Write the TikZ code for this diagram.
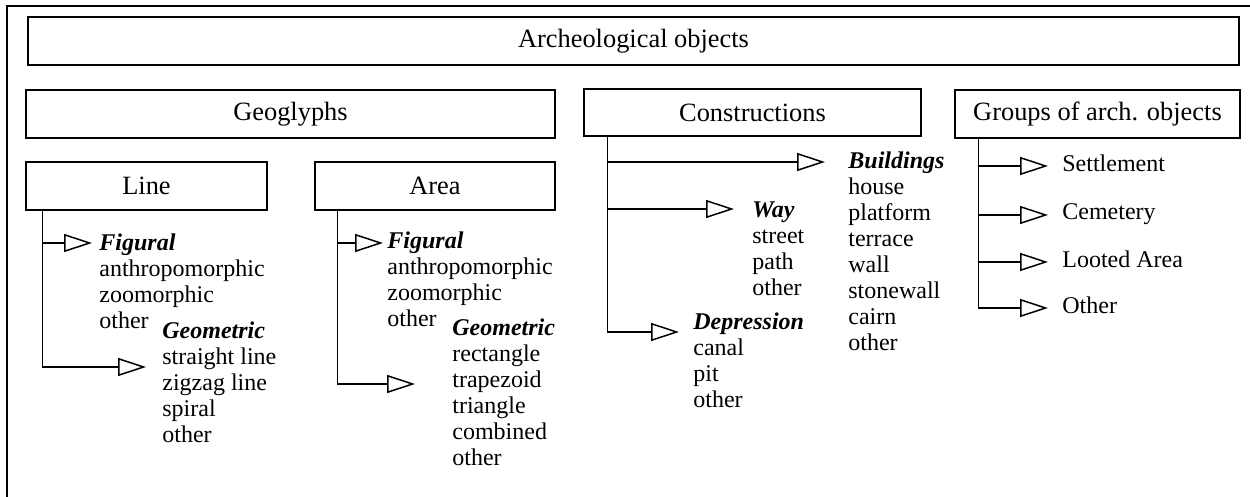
\documentclass[tikz,border=0pt]{standalone}
\usepackage{fontspec}
\setmainfont{Liberation Serif}
\usetikzlibrary{arrows.meta}

% heading in bold italic, then the kinds below it
\newcommand{\kinds}[2]{\begin{tabular}[t]{@{}l@{}}\textbf{\textit{#1}}\\#2\end{tabular}}

\begin{document}
\begin{tikzpicture}[
            x = 0.5pt,
            y = -0.5pt,
            box/.style = {
                draw,
                rectangle,
                line width = 0.75pt,
                minimum height = 24pt,
                inner sep = 0pt,
                font = \fontsize{13.2}{15}\selectfont
            },
            txt/.style = {
                anchor = base west,
                inner sep = 0pt,
                font = \fontsize{12}{13}\selectfont
            },
            link/.style = {
                line width = 0.75pt,
                -{Triangle[open, length=14pt, width=9pt]}
            }
            ]
            \useasboundingbox (0,0) rectangle (1250,497);
            \draw[line width = 1pt] (7,497) -- (7,6) -- (1250,6);

            % boxes
            \node[box, minimum width=605.5pt] (arch) at (633.5,41) {Archeological objects};
            \node[box, minimum width=264.5pt] (geo) at (290.5,114) {Geoglyphs};
            \node[box, minimum width=120.5pt] (line) at (146.5,186) {Line};
            \node[box, minimum width=120pt] (area) at (435,186) {Area};
            \node[box, minimum width=168.5pt, minimum height=23.5pt] (cons) at (752.5,112.5) {Constructions};
            \node[box, minimum width=142.5pt] (grp) at (1097.5,114) {Groups of arch. objects};

            % lists
            \node[txt] (lfig) at (99,251) {\kinds{Figural}{anthropomorphic\\zoomorphic\\other}};
            \node[txt] (lgeo) at (162,339) {\kinds{Geometric}{straight line\\zigzag line\\spiral\\other}};
            \node[txt] (afig) at (387,249) {\kinds{Figural}{anthropomorphic\\zoomorphic\\other}};
            \node[txt] (ageo) at (452,336) {\kinds{Geometric}{rectangle\\trapezoid\\triangle\\combined\\other}};
            \node[txt] (bld) at (848,169) {\kinds{Buildings}{house\\platform\\terrace\\wall\\stonewall\\cairn\\other}};
            \node[txt] (way) at (752,218) {\kinds{Way}{street\\path\\other}};
            \node[txt] (dep) at (693,330) {\kinds{Depression}{canal\\pit\\other}};
            \node[txt] (settle) at (1062,172) {Settlement};
            \node[txt] (cem) at (1062,220) {Cemetery};
            \node[txt] (loot) at (1062,268) {Looted Area};
            \node[txt] (oth) at (1062,314) {Other};

            % arrow tips
            \coordinate (lfigT) at (92,243);
            \coordinate (lgeoT) at (146,367);
            \coordinate (afigT) at (383,243);
            \coordinate (ageoT) at (415,384);
            \coordinate (bldT) at (825,162);
            \coordinate (wayT) at (734,209);
            \coordinate (depT) at (679,332);
            \coordinate (settleT) at (1048,166);
            \coordinate (cemT) at (1048,215);
            \coordinate (lootT) at (1048,262);
            \coordinate (othT) at (1048,308);

            % trunks
            \coordinate (lt) at ([xshift=8.5pt]line.south west);
            \coordinate (at) at ([xshift=11.5pt]area.south west);
            \coordinate (ct) at ([xshift=12pt]cons.south west);
            \coordinate (gt) at ([xshift=12pt]grp.south west);

            \draw[link] (lt |- lfigT) -- (lfigT);
            \draw[link] (lt) |- (lgeoT);
            \draw[link] (at |- afigT) -- (afigT);
            \draw[link] (at) |- (ageoT);
            \draw[link] (ct |- bldT) -- (bldT);
            \draw[link] (ct |- wayT) -- (wayT);
            \draw[link] (ct) |- (depT);
            \draw[link] (gt |- settleT) -- (settleT);
            \draw[link] (gt |- cemT) -- (cemT);
            \draw[link] (gt |- lootT) -- (lootT);
            \draw[link] (gt) |- (othT);
        \end{tikzpicture}
\end{document}
